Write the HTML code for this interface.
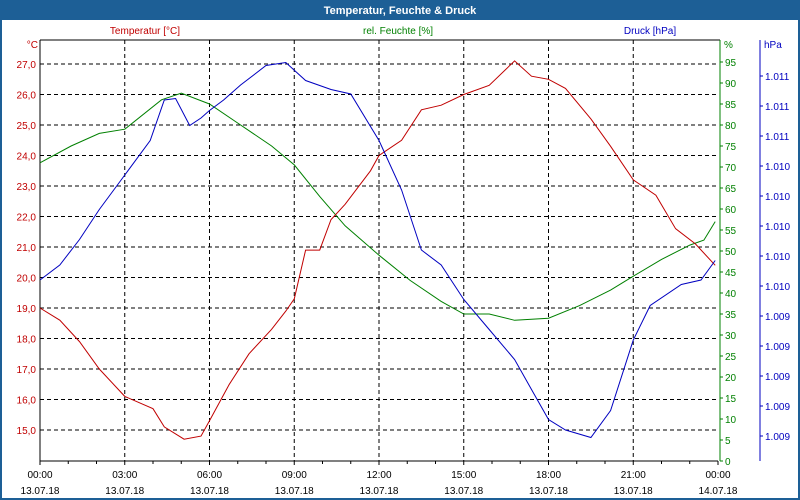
<!DOCTYPE html>
<html><head><meta charset="utf-8"><style>
html,body{margin:0;padding:0;background:#fff}
svg{display:block;font-family:"Liberation Sans",sans-serif}
</style></head><body>
<svg id="c" width="800" height="500" viewBox="0 0 800 500">
<rect x="0" y="0" width="800" height="500" fill="#1d5f96"/>
<rect x="2" y="20" width="796" height="478" fill="#fff"/>
<text x="400" y="14" text-anchor="middle" fill="#fff" font-size="11" font-weight="bold">Temperatur, Feuchte &amp; Druck</text>
<text x="145" y="34" text-anchor="middle" fill="#c00000" font-size="10">Temperatur [°C]</text>
<text x="398" y="34" text-anchor="middle" fill="#008000" font-size="10">rel. Feuchte [%]</text>
<text x="650" y="34" text-anchor="middle" fill="#0000c0" font-size="10">Druck [hPa]</text>
<text x="38" y="48" text-anchor="end" fill="#c00000" font-size="10">°C</text>
<text x="724" y="48" fill="#008000" font-size="10">%</text>
<text x="764" y="48" fill="#0000c0" font-size="10">hPa</text>
<g id="g"></g>
</svg>
<script>
const tempHours=[0,0.7,1.4,2.1,3,4,4.4,5.1,5.7,6,6.7,7.4,8.2,8.7,9,9.4,9.9,10.3,10.8,11.7,12,12.8,13.5,14.2,15,15.9,16.8,17.4,18,18.6,19.5,20.2,21,21.8,22.5,23.2,23.9];
const tempValues=[19.0,18.6,17.9,17.0,16.1,15.7,15.1,14.7,14.8,15.3,16.5,17.5,18.3,18.9,19.3,20.9,20.9,21.9,22.4,23.5,24.0,24.5,25.5,25.65,26.0,26.3,27.1,26.6,26.5,26.2,25.2,24.3,23.2,22.7,21.6,21.1,20.4];
const humHours=[0,1.1,2.1,3,4.3,5,6,7.1,8.2,9,9.9,10.8,12,13.1,14.2,15,15.9,16.8,18,19.1,20.2,21,22,23,23.5,23.9];
const humValues=[71,75,78,79,86,87.6,85,80,75,70.5,63,56,49,43,38,35,35,33.5,34,37,40.7,44,48,51.4,52.6,57];
const presHours=[0,0.7,1.4,2.1,3,3.9,4.4,4.8,5.3,5.7,6,6.5,7.1,8,8.7,9.4,10.3,11,12,12.8,13.5,14.2,15,15.9,16.8,17.4,18,18.6,19.5,20.2,21,21.6,22.7,23.4,23.9];
const presValues=[1009.64,1009.74,1009.91,1010.11,1010.34,1010.57,1010.84,1010.85,1010.67,1010.72,1010.77,1010.84,1010.94,1011.07,1011.09,1010.97,1010.91,1010.88,1010.57,1010.24,1009.84,1009.74,1009.51,1009.31,1009.11,1008.91,1008.71,1008.64,1008.59,1008.77,1009.24,1009.47,1009.61,1009.64,1009.77];
const tempTicks=[15,16,17,18,19,20,21,22,23,24,25,26,27];
const humTicks=[0,5,10,15,20,25,30,35,40,45,50,55,60,65,70,75,80,85,90,95];
const presTicks=[1008.6,1008.8,1009.0,1009.2,1009.4,1009.6,1009.8,1010.0,1010.2,1010.4,1010.6,1010.8,1011.0];
const timeLabels=["00:00","03:00","06:00","09:00","12:00","15:00","18:00","21:00","00:00"];
const dateLabels=["13.07.18","13.07.18","13.07.18","13.07.18","13.07.18","13.07.18","13.07.18","13.07.18","14.07.18"];

const X0=40,X1=718,YB=461,YT=40;
const xs=h=>X0+(X1-X0)*h/24;
const yT=t=>64+(27-t)*30.5;
const yH=v=>461-v*4.2;
const yP=p=>76+(1011-p)*150;
const NS="http://www.w3.org/2000/svg";
const g=document.getElementById('g');
function mk(tag,at){const e=document.createElementNS(NS,tag);for(const k in at)e.setAttribute(k,at[k]);g.appendChild(e);return e;}

tempTicks.forEach(t=>{
  const l=mk('line',{x1:X0,x2:X1,y1:yT(t),y2:yT(t),stroke:'#000','stroke-dasharray':'4,3'});
  
  
  const tx=mk('text',{x:36,y:yT(t)+4,'text-anchor':'end',fill:'#c00000','font-size':10});
  tx.textContent=t.toFixed(1).replace('.',',');
  
  
});
for(let i=1;i<8;i++){
  const l=mk('line',{x1:xs(i*3),x2:xs(i*3),y1:YT,y2:YB,stroke:'#000','stroke-dasharray':'4,3'});
  
  
}
for(let h=0;h<=24;h++){
  const l=mk('line',{x1:xs(h),x2:xs(h),y1:YB,y2:YB+(h%3==0?4:3),stroke:'#000'});
  
  
}
timeLabels.forEach((s,i)=>{
  const a=mk('text',{x:xs(i*3),y:478,'text-anchor':'middle',fill:'#000','font-size':10});
  a.textContent=s;
  
  
  const b=mk('text',{x:xs(i*3),y:494,'text-anchor':'middle',fill:'#000','font-size':10});
  b.textContent=dateLabels[i];
  
  
});
let ax=mk('line',{x1:X0,x2:X0,y1:YT,y2:YB,stroke:'#000'});


ax=mk('line',{x1:X0,x2:X1,y1:YB,y2:YB,stroke:'#000'});


ax=mk('line',{x1:X0,x2:720,y1:YT,y2:YT,stroke:'#000'});


ax=mk('line',{x1:720,x2:720,y1:YT,y2:YB,stroke:'#008000'});


ax=mk('line',{x1:760,x2:760,y1:YT,y2:YB,stroke:'#0000c0'});


humTicks.forEach(v=>{
  const l=mk('line',{x1:720,x2:723,y1:yH(v),y2:yH(v),stroke:'#008000'});
  
  
  const t=mk('text',{x:725,y:yH(v)+4,fill:'#008000','font-size':10});
  t.textContent=v;
  
  
});
presTicks.forEach(v=>{
  const l=mk('line',{x1:760,x2:763,y1:yP(v),y2:yP(v),stroke:'#0000c0'});
  
  
  const t=mk('text',{x:765,y:yP(v)+4,fill:'#0000c0','font-size':10});
  const r=String(Math.round(v));
  t.textContent=r[0]+'.'+r.slice(1);
  
  
});
function series(hs,vs,yf,col,name){
  const p=mk('polyline',{points:hs.map((h,i)=>xs(h).toFixed(1)+','+yf(vs[i]).toFixed(1)).join(' '),fill:'none',stroke:col,'stroke-width':1});
  
  
}
series(humHours,humValues,yH,'#008000','humidity-line');
series(tempHours,tempValues,yT,'#c00000','temperature-line');
series(presHours,presValues,yP,'#0000c0','pressure-line');
</script>
</body></html>
